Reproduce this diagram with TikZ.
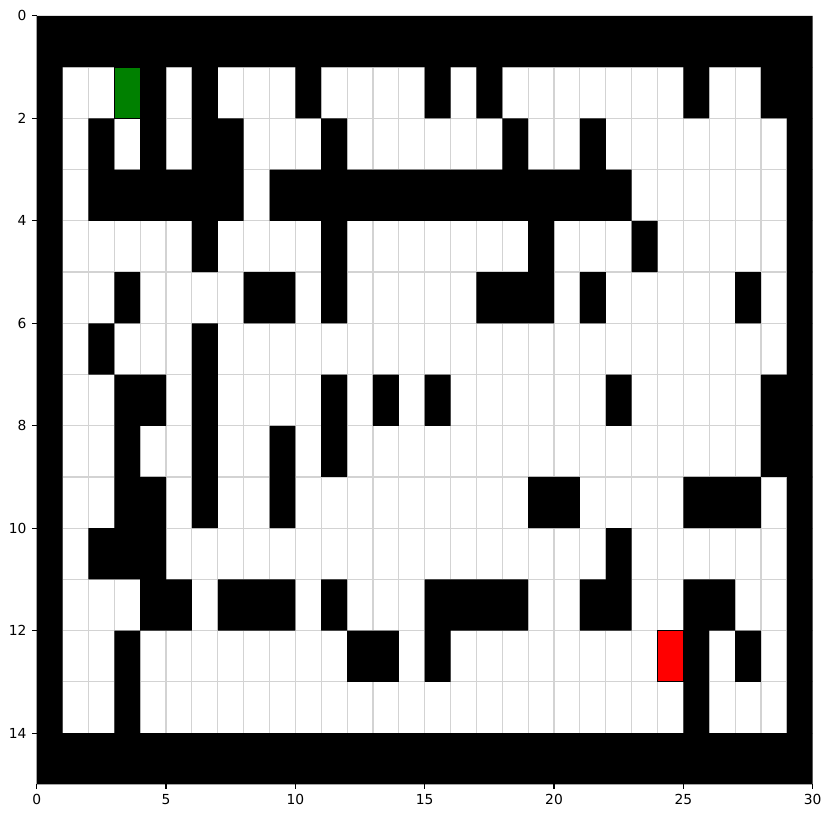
\documentclass[tikz,border=0pt]{standalone}
\usepackage{fontspec}
\setmainfont{DejaVu Sans}
\definecolor{startgreen}{HTML}{008000}
\definecolor{goalred}{HTML}{FF0000}
\definecolor{gridgray}{HTML}{D3D3D3}

\begin{document}
\begin{tikzpicture}[x=0.6571cm, y=-1.3015cm, every node/.style={font=\fontsize{10}{12}\selectfont},
	wall/.style={fill=black}, cellline/.style={gridgray, line width=0.8pt}, tick/.style={line width=0.8pt}]
	\useasboundingbox (-1.419,-0.310) rectangle (30.707,15.673);
	% floor and grid lines
	\fill[white] (0,0) rectangle (30,15);
	\foreach \i in {1,...,29} {\draw[cellline] (\i,0) -- (\i,15);}
	\foreach \j in {1,...,14} {\draw[cellline] (0,\j) -- (30,\j);}
	% walls, one row at a time
	\fill[wall] \foreach \r/\cols in {0/{0,...,29}, 1/{0,4,6,10,15,17,25,28,29}, 2/{0,2,4,6,7,11,18,21,29},
		3/{0,2,3,4,5,6,7,9,10,11,12,13,14,15,16,17,18,19,20,21,22,29}, 4/{0,6,11,19,23,29},
		5/{0,3,8,9,11,17,18,19,21,27,29}, 6/{0,2,6,29}, 7/{0,3,4,6,11,13,15,22,28,29},
		8/{0,3,6,9,11,28,29}, 9/{0,3,4,6,9,19,20,25,26,27,29}, 10/{0,2,3,4,22,29},
		11/{0,4,5,7,8,9,11,15,16,17,18,21,22,25,26,29}, 12/{0,3,12,13,15,25,27,29},
		13/{0,3,25,29}, 14/{0,...,29}} {\foreach \c in \cols {(\c,\r) rectangle ++(1,1)}};
	% start and goal
	\filldraw[fill=startgreen, draw=black, line width=0.8pt] (3,1) rectangle (4,2);
	\filldraw[fill=goalred, draw=black, line width=0.8pt] (24,12) rectangle (25,13);
	% axis ticks
	\foreach \v in {0,5,...,30} {\draw[tick] (\v,15) -- ++(0pt,-3.5pt) node[anchor=north, inner sep=0pt, yshift=-3.5pt] (xt\v) {\v};}
	\foreach \v in {0,2,...,14} {\draw[tick] (0,\v) -- ++(-3.5pt,0pt) node[anchor=east, inner sep=0pt, xshift=-3.5pt] (yt\v) {\v};}
\end{tikzpicture}
\end{document}
